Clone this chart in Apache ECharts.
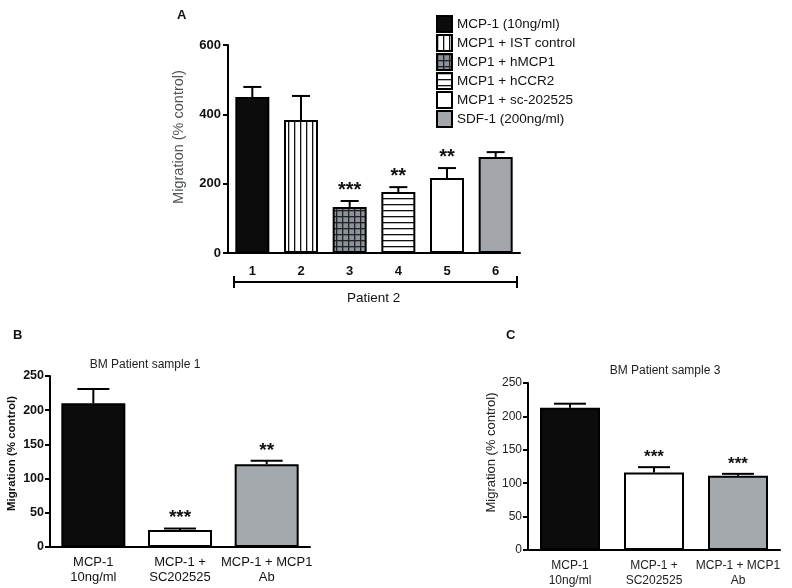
<!DOCTYPE html>
<html><head><meta charset="utf-8">
<script src="https://cdn.jsdelivr.net/npm/echarts@6/dist/echarts.min.js"></script>
<style>html,body{margin:0;padding:0;background:#fff}#c{width:792px;height:588px}</style>
</head><body><div id="c"></div>
<script>
// ---- data ----
const catsA = ['1', '2', '3', '4', '5', '6'];
const namesA = ['MCP-1 (10ng/ml)', 'MCP1 + IST control', 'MCP1 + hMCP1', 'MCP1 + hCCR2', 'MCP1 + sc-202525', 'SDF-1 (200ng/ml)'];
const meanA = [450, 384, 133, 176, 216, 277];
const upperA = [479, 453, 150, 190, 245, 291];
const sigA = ['', '', '***', '**', '**', ''];
const ticksA = [0, 200, 400, 600];

const catsB = ['MCP-1\n10ng/ml', 'MCP-1 +\nSC202525', 'MCP-1 + MCP1\nAb'];
const meanB = [210, 25, 121];
const upperB = [231, 27, 126];
const sigB = ['', '***', '**'];

const catsC = ['MCP-1\n10ng/ml', 'MCP-1 +\nSC202525', 'MCP-1 + MCP1\nAb'];
const meanC = [213, 116, 111];
const upperC = [219, 124, 114];
const sigC = ['', '***', '***'];
const ticksBC = [0, 50, 100, 150, 200, 250];

// ---- patterns ----
function makePattern(kind) {
  const c = document.createElement('canvas');
  const s = 6; c.width = s; c.height = s;
  const g = c.getContext('2d');
  if (kind === 'v') { g.fillStyle = '#fff'; g.fillRect(0,0,s,s); g.fillStyle = '#111'; g.fillRect(0,0,1.3,s); }
  if (kind === 'h') { g.fillStyle = '#fff'; g.fillRect(0,0,s,s); g.fillStyle = '#111'; g.fillRect(0,0,s,1.3); }
  if (kind === 'grid') { g.fillStyle = '#8c939b'; g.fillRect(0,0,s,s); g.fillStyle = '#222'; g.fillRect(0,0,1.3,s); g.fillRect(0,0,s,1.3); }
  return { image: c, repeat: 'repeat' };
}
const fillsA = ['#0c0c0c', makePattern('v'), makePattern('grid'), makePattern('h'), '#ffffff', '#a3a7ab'];
const fillsB = ['#0c0c0c', '#ffffff', '#a4a9ad'];

const FONT = 'Liberation Sans, Arial, sans-serif';

function errSeries(grid, cats, means, uppers, sigs, capW, fontSize) {
  return {
    type: 'custom', xAxisIndex: grid, yAxisIndex: grid, z: 10,
    data: cats.map((c, i) => [i, means[i], uppers[i]]),
    renderItem(params, api) {
      const i = api.value(0);
      const pLo = api.coord([i, api.value(1)]);
      const pHi = api.coord([i, api.value(2)]);
      const hw = capW / 2;
      const children = [
        { type: 'line', shape: { x1: pLo[0], y1: pLo[1], x2: pHi[0], y2: pHi[1] }, style: { stroke: '#000', lineWidth: 2 } },
        { type: 'line', shape: { x1: pHi[0] - hw, y1: pHi[1], x2: pHi[0] + hw, y2: pHi[1] }, style: { stroke: '#000', lineWidth: 2 } }
      ];
      const s = sigs[params.dataIndex];
      if (s) children.push({ type: 'text', x: pHi[0], y: pHi[1] - 1, style: { text: s, textAlign: 'center', textVerticalAlign: 'bottom', font: 'bold ' + fontSize + 'px ' + FONT, fill: '#111' } });
      return { type: 'group', children };
    }
  };
}

const axisLine = { lineStyle: { color: '#000', width: 2 } };
const axisTick = { length: 5, lineStyle: { color: '#000', width: 2 } };

const series = [];
namesA.forEach((n, k) => {
  series.push({
    name: n, type: 'bar', xAxisIndex: 0, yAxisIndex: 0, barWidth: 34, barGap: '-100%',
    itemStyle: { color: fillsA[k], borderColor: '#000', borderWidth: 2 },
    data: meanA.map((v, j) => (j === k ? v : null))
  });
});
series.push(errSeries(0, catsA, meanA, upperA, sigA, 18, 20));
series.push({
  type: 'bar', xAxisIndex: 1, yAxisIndex: 1, barWidth: 64,
  data: meanB.map((v, j) => ({ value: v, itemStyle: { color: fillsB[j], borderColor: '#000', borderWidth: 2 } }))
});
series.push(errSeries(1, catsB, meanB, upperB, sigB, 32, 19));
series.push({
  type: 'bar', xAxisIndex: 2, yAxisIndex: 2, barWidth: 60,
  data: meanC.map((v, j) => ({ value: v, itemStyle: { color: fillsB[j], borderColor: '#000', borderWidth: 2 } }))
});
series.push(errSeries(2, catsC, meanC, upperC, sigC, 32, 17));

const option = {
  animation: false,
  backgroundColor: '#fff',
  textStyle: { fontFamily: FONT },
  title: [
    { text: 'A', left: 172, top: 4, textStyle: { fontSize: 13, fontWeight: 'bold', color: '#111', fontFamily: FONT } },
    { text: 'B', left: 8, top: 324, textStyle: { fontSize: 13, fontWeight: 'bold', color: '#111', fontFamily: FONT } },
    { text: 'C', left: 501, top: 324, textStyle: { fontSize: 13, fontWeight: 'bold', color: '#111', fontFamily: FONT } },
    { text: 'BM Patient sample 1', left: 140, top: 354, textAlign: 'center', textStyle: { fontSize: 12, fontWeight: 'normal', color: '#222', fontFamily: FONT } },
    { text: 'BM Patient sample 3', left: 660, top: 360, textAlign: 'center', textStyle: { fontSize: 12, fontWeight: 'normal', color: '#222', fontFamily: FONT } }
  ],
  legend: {
    orient: 'vertical', left: 431, top: 10, itemWidth: 15, itemHeight: 16, itemGap: 1,
    icon: 'rect', data: namesA,
    textStyle: { fontSize: 13.5, color: '#111', fontFamily: FONT }
  },
  grid: [
    { left: 228, top: 45, width: 292, height: 208 },
    { left: 50, top: 376, width: 260, height: 171 },
    { left: 528, top: 383, width: 252, height: 167 }
  ],
  xAxis: [
    { type: 'category', gridIndex: 0, data: catsA, axisLine, axisTick: Object.assign({ alignWithLabel: true }, axisTick),
      axisLabel: { fontSize: 13, fontWeight: 'bold', color: '#111', margin: 12, interval: 0 } },
    { type: 'category', gridIndex: 1, data: catsB, axisLine, axisTick: Object.assign({ alignWithLabel: true }, axisTick),
      axisLabel: { fontSize: 13, color: '#111', margin: 8, lineHeight: 15, interval: 0 } },
    { type: 'category', gridIndex: 2, data: catsC, axisLine, axisTick: Object.assign({ alignWithLabel: true }, axisTick),
      axisLabel: { fontSize: 12, color: '#222', margin: 8, lineHeight: 15, interval: 0 } }
  ],
  yAxis: [
    { type: 'value', gridIndex: 0, min: ticksA[0], max: ticksA[ticksA.length - 1], interval: ticksA[1] - ticksA[0],
      axisLine: Object.assign({ show: true }, axisLine), axisTick: Object.assign({ show: true }, axisTick), splitLine: { show: false },
      axisLabel: { fontSize: 13, fontWeight: 'bold', color: '#111', margin: 7 },
      name: 'Migration (% control)', nameLocation: 'middle', nameGap: 42,
      nameTextStyle: { fontSize: 14.5, color: '#4d5358', fontFamily: FONT, padding: [0, 0, 0, 24] } },
    { type: 'value', gridIndex: 1, min: ticksBC[0], max: ticksBC[ticksBC.length - 1], interval: ticksBC[1] - ticksBC[0],
      axisLine: Object.assign({ show: true }, axisLine), axisTick: Object.assign({ show: true }, axisTick), splitLine: { show: false },
      axisLabel: { fontSize: 12.5, fontWeight: 'bold', color: '#111', margin: 6 },
      name: 'Migration (% control)', nameLocation: 'middle', nameGap: 32,
      nameTextStyle: { fontSize: 11.5, fontWeight: 'bold', color: '#111', fontFamily: FONT, padding: [0, 0, 0, 16] } },
    { type: 'value', gridIndex: 2, min: ticksBC[0], max: ticksBC[ticksBC.length - 1], interval: ticksBC[1] - ticksBC[0],
      axisLine: Object.assign({ show: true }, axisLine), axisTick: Object.assign({ show: true }, axisTick), splitLine: { show: false },
      axisLabel: { fontSize: 12, color: '#222', margin: 6 },
      name: 'Migration (% control)', nameLocation: 'middle', nameGap: 26,
      nameTextStyle: { fontSize: 13, color: '#222', fontFamily: FONT, padding: [0, 0, 0, 28] } }
  ],
  graphic: [
    { type: 'line', shape: { x1: 234, y1: 282, x2: 517, y2: 282 }, style: { stroke: '#000', lineWidth: 2 } },
    { type: 'line', shape: { x1: 234, y1: 276, x2: 234, y2: 288 }, style: { stroke: '#000', lineWidth: 2 } },
    { type: 'line', shape: { x1: 517, y1: 276, x2: 517, y2: 288 }, style: { stroke: '#000', lineWidth: 2 } },
    { type: 'text', left: 347, top: 291, style: { text: 'Patient 2', font: '13.5px ' + FONT, fill: '#111' } }
  ],
  series
};
const chart = echarts.init(document.getElementById('c'), null, { renderer: 'canvas' });
chart.setOption(option);
</script></body></html>
